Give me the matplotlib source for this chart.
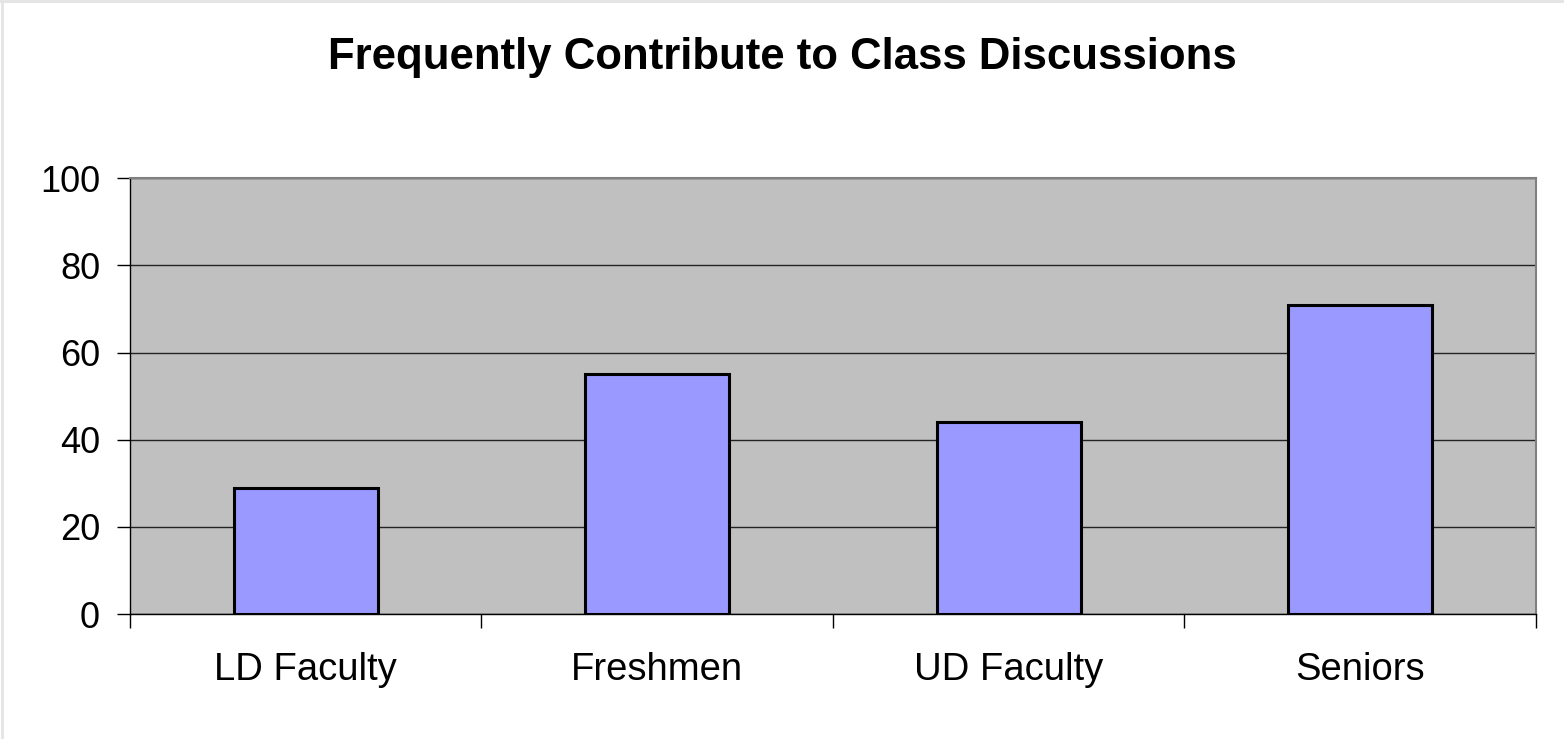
import numpy as np
import matplotlib.pyplot as plt
from matplotlib.lines import Line2D

categories = ["LD Faculty", "Freshmen", "UD Faculty", "Seniors"]
values = [29, 55, 44, 71]
yticks = [0, 20, 40, 60, 80, 100]

plt.rcParams['font.family'] = ['Liberation Sans', 'DejaVu Sans']

fig = plt.figure(figsize=(15.64, 7.39), dpi=100)
ax = fig.add_axes([0.0831, 0.169, 0.8990, 0.590])
ax.set_facecolor('#c0c0c0')

x = np.arange(len(categories))
ax.bar(x, values, width=0.41, color='#9999ff', edgecolor='black', linewidth=2.2, zorder=3)

ax.set_xlim(-0.5, len(categories) - 0.5)
ax.set_ylim(0, 100)
ax.set_yticks(yticks)
ax.set_yticklabels([str(v) for v in yticks], fontsize=26)
ax.grid(axis='y', color='#222222', linewidth=1.0, zorder=1)

# category ticks sit between the groups, labels centred under bars
ax.set_xticks(np.arange(len(categories) + 1) - 0.5)
ax.set_xticklabels([])
ax.set_xticks(x, minor=True)
ax.set_xticklabels(categories, minor=True, fontsize=27.5)
ax.tick_params(axis='x', which='minor', length=0, pad=27)
ax.tick_params(axis='x', which='major', direction='out', length=10, width=1)
ax.tick_params(axis='y', direction='out', length=9.5, width=1, pad=12)

for side in ['top', 'right']:
    ax.spines[side].set_color('#808080')
    ax.spines[side].set_linewidth(1.5)
for side in ['left', 'bottom']:
    ax.spines[side].set_color('black')
    ax.spines[side].set_linewidth(1.0)

fig.text(0.5, 0.922, "Frequently Contribute to Class Discussions",
         ha='center', va='center', fontsize=31.5, fontweight='bold')

# faint frame at the top and left edge of the image
fig.add_artist(Line2D([0, 1], [0.998, 0.998], transform=fig.transFigure, color='#e4e4e4', lw=2))
fig.add_artist(Line2D([0.001, 0.001], [0, 1], transform=fig.transFigure, color='#e4e4e4', lw=2))

fig.savefig('out.png', dpi=100)
